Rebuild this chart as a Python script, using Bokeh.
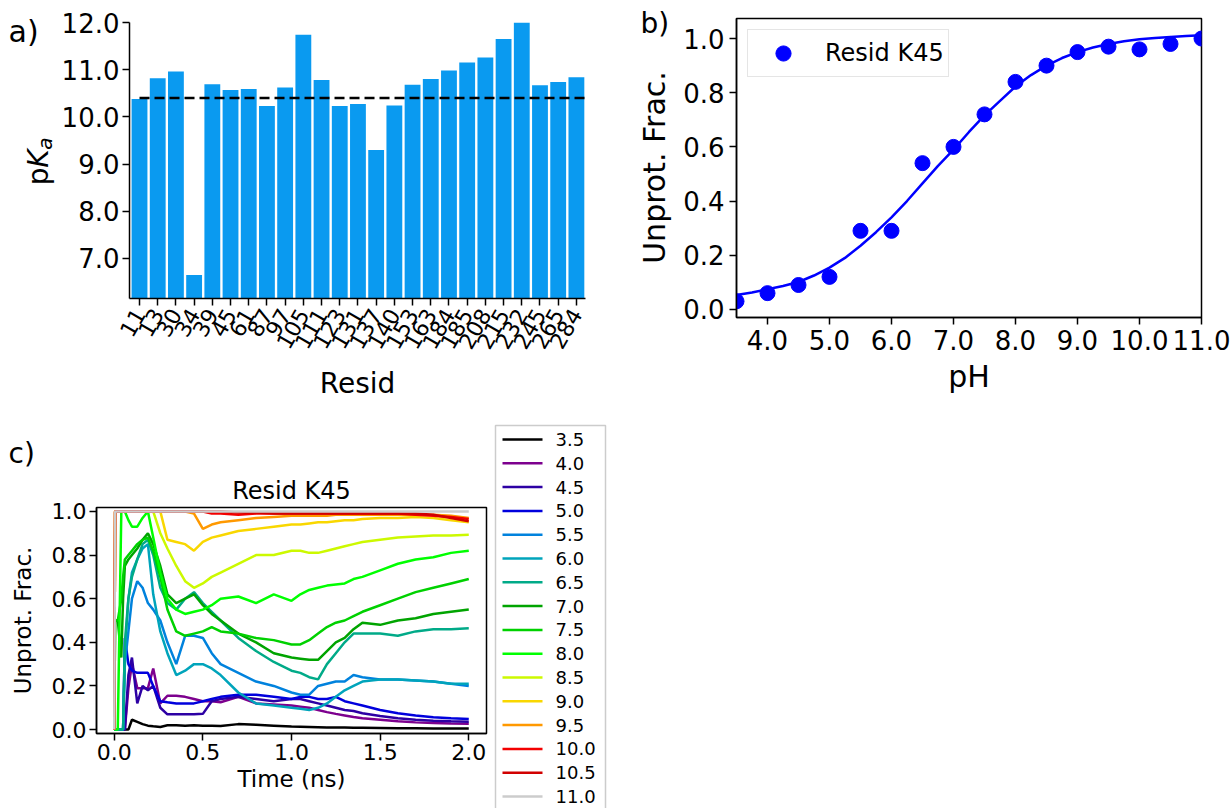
import math
from bokeh.plotting import figure
from bokeh.models import Range1d, FixedTicker, PrintfTickFormatter
from bokeh.core.properties import value
from bokeh.layouts import column, row
from bokeh.embed import file_html
from bokeh.resources import INLINE

FONT = "DejaVu Sans"

# ---------------- data: panel a ----------------
resid_labels = ["11", "13", "30", "34", "39", "45", "61", "87", "97", "105", "111", "123", "131",
                "137", "140", "153", "163", "184", "185", "208", "215", "232", "245", "265", "284"]
pka_values = [10.38, 10.82, 10.96, 6.65, 10.69, 10.57, 10.59, 10.23, 10.62, 11.74, 10.78, 10.23, 10.27,
              9.30, 10.24, 10.68, 10.80, 10.98, 11.15, 11.26, 11.65, 12.00, 10.67, 10.74, 10.84]
pka_mean = 10.4

# ---------------- data: panel b ----------------
ph_points = [3.5, 4.0, 4.5, 5.0, 5.5, 6.0, 6.5, 7.0, 7.5, 8.0, 8.5, 9.0, 9.5, 10.0, 10.5, 11.0]
frac_points = [0.03, 0.06, 0.09, 0.12, 0.29, 0.29, 0.54, 0.60, 0.72, 0.84, 0.90, 0.95, 0.97, 0.96, 0.98, 1.00]
ph_curve = [3.5, 3.75, 4.0, 4.25, 4.5, 4.75, 5.0, 5.25, 5.5, 5.75, 6.0, 6.25, 6.5, 6.75, 7.0, 7.25,
            7.5, 7.75, 8.0, 8.25, 8.5, 8.75, 9.0, 9.25, 9.5, 9.75, 10.0, 10.25, 10.5, 10.75, 11.0]
frac_curve = [0.053, 0.062, 0.074, 0.086, 0.101, 0.125, 0.154, 0.19, 0.235, 0.285, 0.34, 0.40, 0.465,
              0.53, 0.59, 0.655, 0.716, 0.77, 0.823, 0.865, 0.90, 0.928, 0.95, 0.967, 0.98, 0.99,
              0.997, 1.002, 1.006, 1.009, 1.012]

# ---------------- data: panel c ----------------
time_ns = [0.0, 0.005, 0.02, 0.04, 0.05, 0.06, 0.08, 0.10, 0.13, 0.16, 0.19, 0.22, 0.26, 0.30,
           0.35, 0.40, 0.45, 0.50, 0.55, 0.60, 0.70, 0.80, 0.90, 1.00, 1.05, 1.10, 1.15, 1.20,
           1.25, 1.30, 1.35, 1.40, 1.50, 1.60, 1.70, 1.80, 1.90, 2.00]
ph_labels = ["3.5", "4.0", "4.5", "5.0", "5.5", "6.0", "6.5", "7.0", "7.5", "8.0", "8.5", "9.0",
             "9.5", "10.0", "10.5", "11.0"]
ph35 = [0, 0, 0, 0, 0, 0, 0, 0.045, 0.035, 0.025, 0.018, 0.015, 0.012, 0.02, 0.02, 0.018, 0.02, 0.018,
        0.017, 0.016, 0.025, 0.022, 0.018, 0.014, 0.013, 0.012, 0.011, 0.01, 0.009, 0.009, 0.008, 0.008,
        0.007, 0.006, 0.006, 0.005, 0.005, 0.005]
ph40 = [0, 0, 0, 0, 0, 0, 0.19, 0.3, 0.19, 0.19, 0.19, 0.28, 0.12, 0.155, 0.155, 0.15, 0.14, 0.13, 0.13,
        0.125, 0.15, 0.12, 0.115, 0.11, 0.105, 0.1, 0.09, 0.08, 0.072, 0.065, 0.058, 0.052, 0.045, 0.038,
        0.033, 0.03, 0.028, 0.027]
ph45 = [0, 0, 0, 0, 0, 0, 0.25, 0.33, 0.12, 0.2, 0.18, 0.2, 0.1, 0.07, 0.07, 0.07, 0.07, 0.072, 0.13, 0.14,
        0.15, 0.14, 0.13, 0.14, 0.14, 0.13, 0.12, 0.11, 0.1, 0.09, 0.085, 0.075, 0.062, 0.052, 0.045,
        0.041, 0.038, 0.036]
ph50 = [0, 0, 0, 0, 0, 0.42, 0.3, 0.27, 0.26, 0.26, 0.26, 0.2, 0.13, 0.125, 0.12, 0.12, 0.12, 0.13, 0.14,
        0.15, 0.16, 0.16, 0.15, 0.14, 0.15, 0.15, 0.14, 0.14, 0.15, 0.13, 0.12, 0.11, 0.09, 0.075, 0.065,
        0.057, 0.052, 0.048]
ph55 = [0, 0, 0, 0, 0, 0.3, 0.45, 0.6, 0.68, 0.65, 0.58, 0.55, 0.5, 0.4, 0.3, 0.43, 0.43, 0.42, 0.35, 0.3,
        0.26, 0.22, 0.2, 0.17, 0.16, 0.16, 0.2, 0.21, 0.22, 0.22, 0.25, 0.24, 0.23, 0.23, 0.225, 0.22,
        0.21, 0.2]
ph60 = [0, 0, 0, 0, 0, 0.35, 0.6, 0.72, 0.78, 0.83, 0.85, 0.62, 0.45, 0.35, 0.25, 0.27, 0.3, 0.3, 0.28,
        0.25, 0.17, 0.12, 0.11, 0.1, 0.095, 0.09, 0.1, 0.12, 0.15, 0.18, 0.2, 0.22, 0.23, 0.23, 0.225,
        0.22, 0.21, 0.21]
ph65 = [0, 0, 0, 0, 0, 0.4, 0.6, 0.7, 0.78, 0.85, 0.87, 0.8, 0.65, 0.58, 0.55, 0.6, 0.63, 0.58, 0.54, 0.5,
        0.42, 0.36, 0.31, 0.27, 0.26, 0.24, 0.23, 0.3, 0.35, 0.4, 0.44, 0.44, 0.44, 0.43, 0.45, 0.46,
        0.46, 0.465]
ph70 = [0, 0.5, 0.5, 0.33, 0.6, 0.75, 0.78, 0.8, 0.83, 0.87, 0.9, 0.85, 0.75, 0.62, 0.58, 0.6, 0.62, 0.57,
        0.53, 0.5, 0.44, 0.4, 0.35, 0.33, 0.325, 0.32, 0.32, 0.36, 0.4, 0.42, 0.46, 0.49, 0.48, 0.5, 0.51,
        0.53, 0.54, 0.55]
ph75 = [0, 0.5, 0.5, 0.6, 0.7, 0.78, 0.8, 0.82, 0.85, 0.87, 0.88, 0.82, 0.7, 0.55, 0.45, 0.43, 0.44, 0.45,
        0.47, 0.45, 0.44, 0.42, 0.41, 0.39, 0.39, 0.41, 0.44, 0.47, 0.49, 0.5, 0.52, 0.54, 0.57, 0.6,
        0.63, 0.65, 0.67, 0.69]
ph80 = [0, 0, 0, 1.0, 1.0, 1.0, 0.96, 0.93, 0.93, 0.97, 1.0, 0.88, 0.72, 0.6, 0.55, 0.53, 0.54, 0.55, 0.57,
        0.6, 0.61, 0.58, 0.62, 0.59, 0.62, 0.64, 0.65, 0.66, 0.665, 0.67, 0.69, 0.7, 0.73, 0.76, 0.78,
        0.79, 0.81, 0.82]
ph85 = [0, 1, 1, 1, 1, 1, 1, 1, 1, 1, 1, 1, 0.9, 0.83, 0.75, 0.68, 0.65, 0.67, 0.7, 0.72, 0.76, 0.8, 0.8,
        0.82, 0.82, 0.81, 0.81, 0.82, 0.83, 0.84, 0.85, 0.86, 0.87, 0.88, 0.885, 0.89, 0.89, 0.893]
ph90 = [0, 1, 1, 1, 1, 1, 1, 1, 1, 1, 1, 1, 1, 0.87, 0.86, 0.85, 0.82, 0.86, 0.88, 0.89, 0.91, 0.92, 0.93,
        0.94, 0.94, 0.945, 0.95, 0.95, 0.955, 0.96, 0.96, 0.965, 0.97, 0.97, 0.975, 0.97, 0.96, 0.95]
ph95 = [0, 1, 1, 1, 1, 1, 1, 1, 1, 1, 1, 1, 1, 1, 1, 1, 0.99, 0.92, 0.94, 0.95, 0.96, 0.97, 0.975, 0.98,
        0.98, 0.98, 0.98, 0.98, 0.985, 0.985, 0.985, 0.985, 0.985, 0.985, 0.985, 0.985, 0.98, 0.97]
ph100 = [0, 1, 1, 1, 1, 1, 1, 1, 1, 1, 1, 1, 1, 1, 1, 1, 1, 1, 0.99, 0.99, 0.985, 0.99, 0.99, 0.99, 0.99,
         0.99, 0.99, 0.99, 0.99, 0.99, 0.99, 0.99, 0.99, 0.99, 0.985, 0.98, 0.975, 0.965]
ph105 = [0, 1, 1, 1, 1, 1, 1, 1, 1, 1, 1, 1, 1, 1, 1, 1, 1, 1, 1, 1, 0.995, 0.995, 0.99, 0.99, 0.99, 0.99,
         0.99, 0.99, 0.99, 0.99, 0.99, 0.99, 0.99, 0.99, 0.99, 0.985, 0.97, 0.955]
ph110 = [0, 1, 1, 1, 1, 1, 1, 1, 1, 1, 1, 1, 1, 1, 1, 1, 1, 1, 1, 1, 1, 1, 1, 1, 1, 1, 1, 1, 1, 1, 1, 1,
         1, 1, 1, 1, 1, 1]
series_c = [ph35, ph40, ph45, ph50, ph55, ph60, ph65, ph70, ph75, ph80, ph85, ph90, ph95, ph100, ph105, ph110]
colors_c = ["#000000", "#7d008e", "#2d00a4", "#0000dd", "#0082dd", "#00a4bb", "#00aa88", "#00a400",
            "#00d100", "#00ff00", "#ccf900", "#f9d700", "#ff9900", "#f30000", "#d10000", "#cccccc"]


def style_axes(p, tick_size, label_size):
    for ax in (p.xaxis[0], p.yaxis[0]):
        ax.axis_line_width = 1.5
        ax.axis_line_color = "black"
        ax.major_tick_line_width = 1.5
        ax.major_tick_line_color = "black"
        ax.major_tick_out = 7
        ax.major_tick_in = 0
        ax.minor_tick_line_color = None
        ax.major_label_text_font = FONT
        ax.major_label_text_font_size = tick_size
        ax.major_label_text_color = "black"
        ax.major_label_standoff = 5
        ax.axis_label_text_font = FONT
        ax.axis_label_text_font_size = label_size
        ax.axis_label_text_font_style = "normal"
        ax.axis_label_text_color = "black"
    p.xgrid.visible = False
    p.ygrid.visible = False


def strip(w, h):
    s = figure(width=w, height=h, x_range=Range1d(0, w), y_range=Range1d(0, h),
               output_backend="svg", toolbar_location=None, x_axis_type=None, y_axis_type=None,
               min_border=0, min_border_left=0, min_border_right=0, min_border_top=0, min_border_bottom=0)
    s.outline_line_color = None
    return s


def label_strip(w, h, tag, ylabel, label_size, left, top, bottom, offset):
    # narrow figure whose title is the panel tag and whose (bare) y-axis carries the axis label
    s = figure(width=w, height=h, x_range=Range1d(0, 1), y_range=Range1d(0, 1), title=tag,
               output_backend="svg", toolbar_location=None, x_axis_type=None,
               min_border_left=left, min_border_right=0, min_border_top=top, min_border_bottom=bottom)
    s.outline_line_color = None
    s.ygrid.visible = False
    ax = s.yaxis[0]
    ax.ticker = FixedTicker(ticks=[])
    ax.axis_line_color = None
    ax.major_tick_line_color = None
    ax.minor_tick_line_color = None
    ax.major_label_standoff = 0
    ax.axis_label = ylabel
    ax.axis_label_standoff = 0
    ax.axis_label_text_font = FONT
    ax.axis_label_text_font_size = label_size
    ax.axis_label_text_font_style = "normal"
    ax.axis_label_text_color = "black"
    s.title.text_font = FONT
    s.title.text_font_size = "28px"
    s.title.text_font_style = "normal"
    s.title.text_color = "black"
    s.title.align = "left"
    s.title.offset = offset
    s.title.standoff = 2
    return s


def put_text(s, h, x, y_top, txt, size, angle=0.0, align="left", baseline="top", style="normal"):
    # y_top is measured from the top of the strip; convert to the strip's upward data axis
    s.text(x=[x], y=[h - y_top], text=[txt], angle=angle, text_align=align, text_baseline=baseline,
           text_font=value(FONT), text_font_size=value(size), text_font_style=style, text_color="black")


TOP_H = 408
BOT_H = 400

# ================= panel a =================
sA = strip(58, TOP_H)
put_text(sA, TOP_H, 8, 13, "a)", "30px")
put_text(sA, TOP_H, 38, 167, "p", "28px", angle=math.pi / 2, align="right", baseline="alphabetic")
put_text(sA, TOP_H, 38, 149, "K", "28px", angle=math.pi / 2, align="right", baseline="alphabetic",
         style="italic")
put_text(sA, TOP_H, 44, 137, "a", "20px", angle=math.pi / 2, align="right", baseline="alphabetic",
         style="italic")

xa = list(range(len(resid_labels)))
pa = figure(width=570, height=TOP_H, x_range=Range1d(-0.55, 24.5), y_range=Range1d(6.15, 12.0),
            output_backend="svg", toolbar_location=None,
            min_border_left=68, min_border_right=43, min_border_top=22, min_border_bottom=110)
pa.outline_line_color = None
pa.vbar(x=xa, top=pka_values, bottom=0, width=0.87, fill_color="#0a9af0", line_color=None)
pa.line(x=[0, 24.5], y=[pka_mean, pka_mean], line_color="black", line_width=2.5, line_dash="10 5")
style_axes(pa, "26px", "28px")
pa.yaxis.major_label_standoff = 3
pa.xaxis.ticker = FixedTicker(ticks=xa)
pa.xaxis.major_label_overrides = {i: lab for i, lab in enumerate(resid_labels)}
pa.xaxis.major_label_orientation = math.pi / 3
pa.xaxis.major_label_text_font_size = "22px"
pa.xaxis.axis_label = "Resid"
pa.xaxis.axis_label_standoff = 9
pa.yaxis.ticker = FixedTicker(ticks=[7, 8, 9, 10, 11, 12])
pa.yaxis.formatter = PrintfTickFormatter(format="%.1f")

# ================= panel b =================
sB = label_strip(44, TOP_H, "b)", "Unprot. Frac.", "30px", left=43, top=40, bottom=114, offset=-31)

pb = figure(width=558, height=TOP_H, x_range=Range1d(3.5, 11.0), y_range=Range1d(-0.03, 1.074),
            output_backend="svg", toolbar_location=None,
            min_border_left=64, min_border_right=29, min_border_top=18, min_border_bottom=91)
pb.outline_line_color = "black"
pb.outline_line_width = 1.5
pb.line(x=ph_curve, y=frac_curve, line_color="#0000ff", line_width=2.5)
pb.scatter(x=ph_points, y=frac_points, size=15, fill_color="#0000ff", line_color="#0000ff",
           legend_label="Resid K45")
style_axes(pb, "26px", "30px")
pb.xaxis.ticker = FixedTicker(ticks=[4, 5, 6, 7, 8, 9, 10, 11])
pb.xaxis.formatter = PrintfTickFormatter(format="%.1f")
pb.yaxis.ticker = FixedTicker(ticks=[0.0, 0.2, 0.4, 0.6, 0.8, 1.0])
pb.yaxis.formatter = PrintfTickFormatter(format="%.1f")
pb.xaxis.axis_label = "pH"
pb.xaxis.axis_label_standoff = 6
lg = pb.legend[0]
lg.location = "top_left"
lg.margin = 11
lg.padding = 4
lg.glyph_width = 62
lg.glyph_height = 38
lg.label_height = 38
lg.label_standoff = 11
lg.label_text_font = FONT
lg.label_text_font_size = "24px"
lg.label_text_color = "black"
lg.border_line_color = "#cccccc"
lg.border_line_width = 1.5

# ================= panel c =================
sC = label_strip(48, BOT_H, "c)", "Unprot. Frac.", "23px", left=35, top=62, bottom=38, offset=-27)

pc = figure(width=442, height=BOT_H, x_range=Range1d(-0.1, 2.1), y_range=Range1d(-0.018, 1.018),
            output_backend="svg", toolbar_location=None, title="Resid K45",
            min_border_left=47, min_border_right=4, min_border_top=99, min_border_bottom=75)
pc.title.text_font = FONT
pc.title.text_font_size = "24px"
pc.title.text_font_style = "normal"
pc.title.text_color = "black"
pc.title.align = "center"
pc.title.standoff = 6
pc.outline_line_color = "black"
pc.outline_line_width = 1.5
for vals, col in zip(series_c, colors_c):
    pc.line(x=time_ns, y=vals, line_color=col, line_width=2.5)
style_axes(pc, "22px", "23px")
pc.xaxis.major_label_standoff = 3
pc.yaxis.major_label_standoff = 3
pc.xaxis.ticker = FixedTicker(ticks=[0.0, 0.5, 1.0, 1.5, 2.0])
pc.xaxis.formatter = PrintfTickFormatter(format="%.1f")
pc.yaxis.ticker = FixedTicker(ticks=[0.0, 0.2, 0.4, 0.6, 0.8, 1.0])
pc.yaxis.formatter = PrintfTickFormatter(format="%.1f")
pc.xaxis.axis_label = "Time (ns)"
pc.xaxis.axis_label_standoff = 3

# legend of panel c, drawn in its own strip to the right of the plot
LW, LEG_TOP, LEG_FIRST, LEG_STEP = 125, 17, 31, 23.8
lC = strip(LW, BOT_H)
lC.quad(left=[5], right=[115], top=[BOT_H - LEG_TOP], bottom=[-20], fill_color="white",
        line_color="#cccccc", line_width=1.5)
ys = [BOT_H - (LEG_FIRST + LEG_STEP * i) for i in range(len(ph_labels))]
lC.segment(x0=[12] * len(ys), x1=[52] * len(ys), y0=ys, y1=ys, line_color=colors_c, line_width=2.5)
lC.text(x=[65] * len(ys), y=ys, text=ph_labels, text_align="left", text_baseline="middle",
        text_font=value(FONT), text_font_size=value("18px"), text_color="black")

layout = column(row(column(sA), column(pa), column(sB), column(pb)),
                row(column(sC), column(pc), column(lC)))
with open("out.html", "w") as f:
    f.write(file_html(layout, INLINE))
